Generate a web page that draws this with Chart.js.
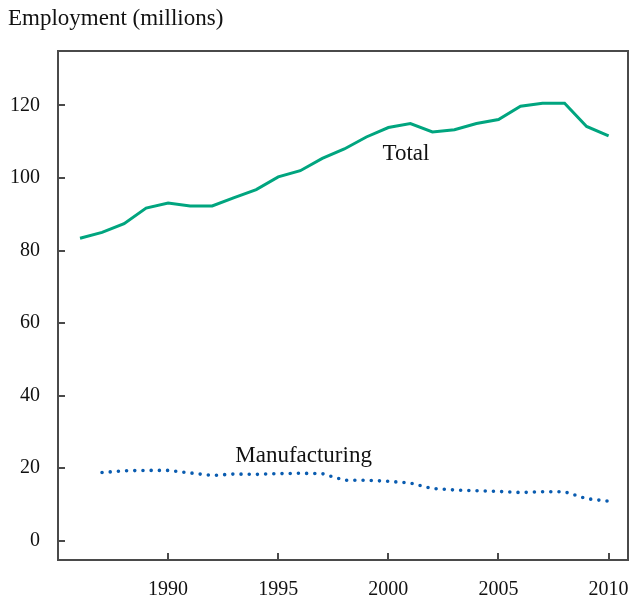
<!DOCTYPE html>
<html>
<head>
<meta charset="utf-8">
<script src="https://cdn.jsdelivr.net/npm/chart.js@4.4.1/dist/chart.umd.min.js"></script>
<style>
  html, body { margin: 0; padding: 0; background: #fff; }
  #wrap { width: 631px; height: 602px; position: relative; }
</style>
</head>
<body>
<div id="wrap"><canvas id="chart"></canvas></div>
<script>
// data
const totalYears = [1986, 1987, 1988, 1989, 1990, 1991, 1992, 1993, 1994, 1995, 1996, 1997, 1998,
  1999, 2000, 2001, 2002, 2003, 2004, 2005, 2006, 2007, 2008, 2009, 2010];
const totalValues = [83.4, 85.0, 87.4, 91.7, 93.1, 92.3, 92.3, 94.6, 96.8, 100.3, 102.0, 105.4, 108.0,
  111.3, 113.9, 115.0, 112.7, 113.3, 115.0, 116.1, 119.8, 120.6, 120.6, 114.2, 111.6];

const manufYears = [1987, 1988, 1989, 1990, 1991, 1992, 1993, 1994, 1995, 1996, 1997, 1998,
  1999, 2000, 2001, 2002, 2003, 2004, 2005, 2006, 2007, 2008, 2009, 2010];
const manufValues = [18.8, 19.3, 19.4, 19.4, 18.7, 18.0, 18.4, 18.3, 18.5, 18.6, 18.5, 16.7,
  16.7, 16.4, 15.9, 14.4, 14.0, 13.8, 13.6, 13.3, 13.5, 13.5, 11.6, 10.9];

const xTicks = [1990, 1995, 2000, 2005, 2010];
const yTicks = [0, 20, 40, 60, 80, 100, 120];

const lineLabels = [
  { text: 'Total', x: 2000.8, y: 104.9 },
  { text: 'Manufacturing', x: 1996.15, y: 21.8 }
];

const serif = '"Liberation Serif", "Times New Roman", serif';
const frameColor = '#4a4a4a';

// frame, inward ticks, line labels and the axis title
const decor = {
  id: 'decor',
  afterDraw(chart) {
    const { ctx, chartArea: a, scales } = chart;
    ctx.save();
    ctx.strokeStyle = frameColor;
    ctx.lineWidth = 2;
    ctx.strokeRect(a.left, a.top, a.right - a.left, a.bottom - a.top);

    ctx.beginPath();
    xTicks.forEach(v => {
      const px = Math.round(scales.x.getPixelForValue(v));
      ctx.moveTo(px, a.bottom);
      ctx.lineTo(px, a.bottom - 7);
    });
    yTicks.forEach(v => {
      const py = Math.round(scales.y.getPixelForValue(v));
      ctx.moveTo(a.left, py);
      ctx.lineTo(a.left + 7, py);
    });
    ctx.stroke();

    ctx.fillStyle = '#111';
    ctx.font = '23px ' + serif;
    ctx.textAlign = 'center';
    ctx.textBaseline = 'alphabetic';
    lineLabels.forEach(l => {
      ctx.fillText(l.text, scales.x.getPixelForValue(l.x), scales.y.getPixelForValue(l.y));
    });

    ctx.textAlign = 'left';
    ctx.fillText('Employment (millions)', 8, 25);
    ctx.restore();
  }
};

new Chart(document.getElementById('chart'), {
  type: 'line',
  data: {
    datasets: [
      {
        label: 'Total',
        data: totalYears.map((yr, i) => ({ x: yr, y: totalValues[i] })),
        borderColor: '#00a57f',
        borderWidth: 3,
        pointRadius: 0,
        tension: 0
      },
      {
        label: 'Manufacturing',
        data: manufYears.map((yr, i) => ({ x: yr, y: manufValues[i] })),
        borderColor: '#0a5cb0',
        borderWidth: 3.6,
        borderDash: [0, 8.2],
        borderCapStyle: 'round',
        pointRadius: 0,
        tension: 0
      }
    ]
  },
  options: {
    responsive: true,
    maintainAspectRatio: false,
    animation: false,
    layout: { padding: { top: 51, right: 3, left: 0, bottom: 0 } },
    plugins: {
      legend: { display: false },
      tooltip: { enabled: false }
    },
    scales: {
      x: {
        type: 'linear',
        min: 1985,
        max: 2010.88,
        afterBuildTicks: s => { s.ticks = xTicks.map(v => ({ value: v })); },
        afterFit: s => { s.height = 42; s.paddingLeft = 0; s.paddingRight = 0; },
        grid: { display: false, drawTicks: false },
        border: { display: false },
        ticks: {
          padding: 18,
          color: '#111',
          font: { family: serif, size: 20 },
          callback: v => String(v),
          maxRotation: 0
        }
      },
      y: {
        min: -5.3,
        max: 135,
        afterBuildTicks: s => { s.ticks = yTicks.map(v => ({ value: v })); },
        afterFit: s => { s.width = 58; s.paddingTop = 0; s.paddingBottom = 0; },
        grid: { display: false, drawTicks: false },
        border: { display: false },
        ticks: {
          padding: 18,
          color: '#111',
          font: { family: serif, size: 20 }
        }
      }
    }
  },
  plugins: [decor]
});
</script>
</body>
</html>
